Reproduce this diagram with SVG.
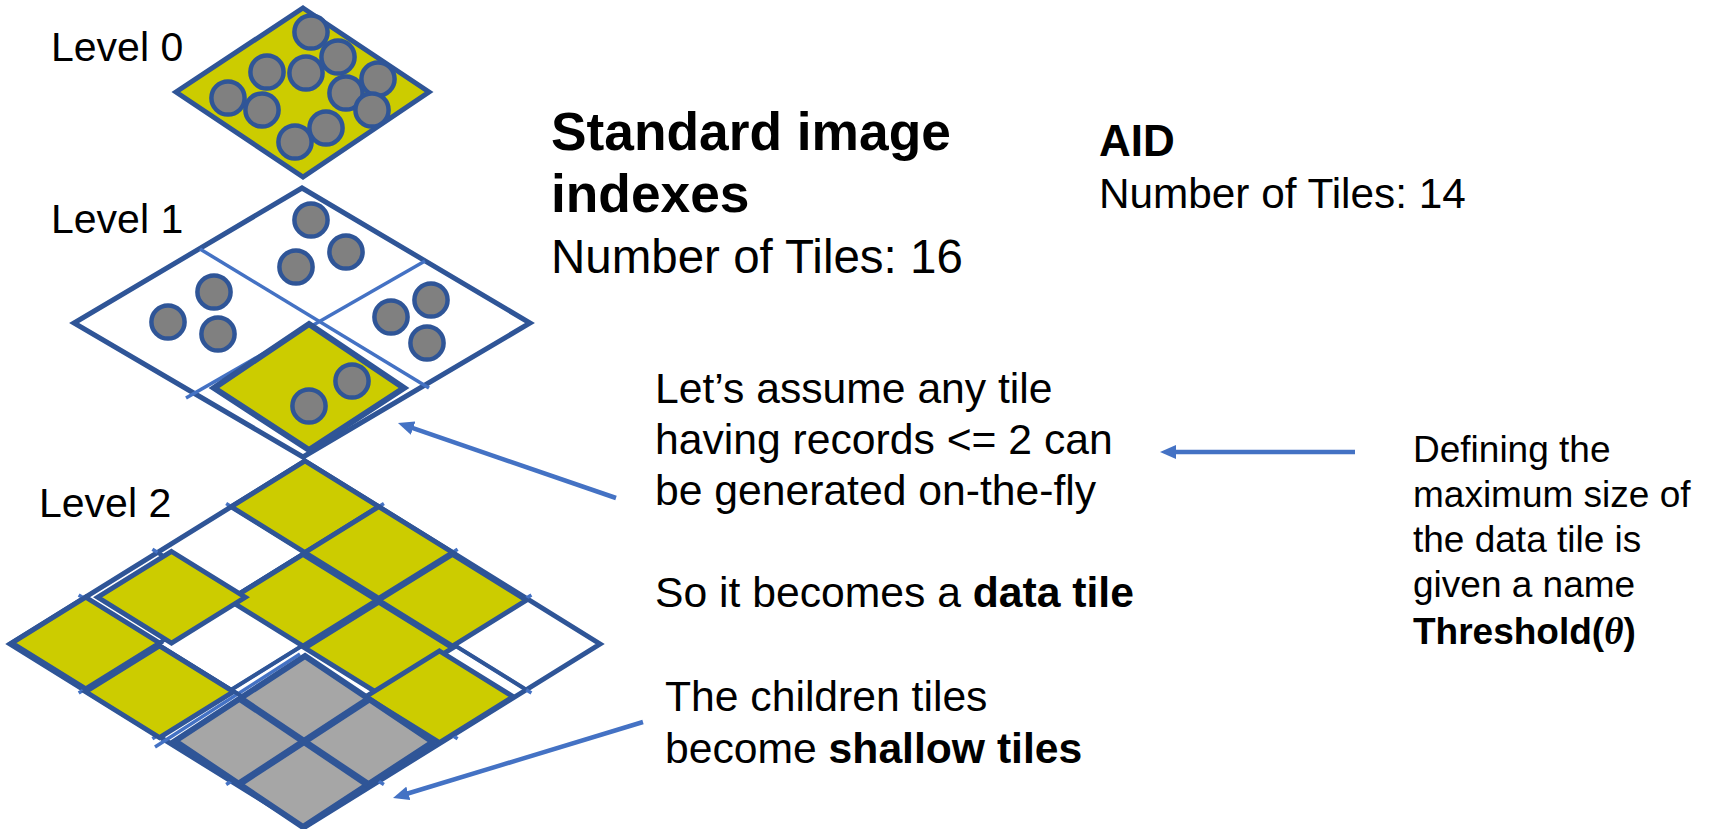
<svg xmlns="http://www.w3.org/2000/svg" width="1714" height="829" viewBox="0 0 1714 829">
<style>
.t{font-family:"Liberation Sans",Arial,sans-serif;fill:#000}
.b{font-weight:bold}
.dk{stroke:#2F5597;stroke-linejoin:miter}
.yel{fill:#CCCC00;stroke:#2F5597;stroke-width:5}
.wht{fill:#FFFFFF;stroke:#2F5597;stroke-width:5}
.gry{fill:#A6A6A6;stroke:#2F5597;stroke-width:6}
.rec{fill:#808080;stroke:#2F5597;stroke-width:4.5}
.lb{stroke:#4472C4;stroke-width:3.5;fill:none}
.dg{stroke:#2F5597;stroke-width:4;fill:none}
.arr{stroke:#4472C4;stroke-width:4.5;fill:none;marker-end:url(#ah)}
</style>
<defs>
<marker id="ah" viewBox="0 0 16 14" refX="4" refY="7" markerWidth="16" markerHeight="14" markerUnits="userSpaceOnUse" orient="auto">
<path d="M0,0 L16,7 L0,14 z" fill="#4472C4"/>
</marker>
</defs>
<rect width="1714" height="829" fill="#FFFFFF"/>

<g id="level0">
<polygon class="yel" points="303,8 429,92 303,177 176,92"/>
<circle class="rec" cx="311" cy="32" r="16.6"/>
<circle class="rec" cx="338" cy="57" r="16.6"/>
<circle class="rec" cx="267" cy="72" r="16.6"/>
<circle class="rec" cx="306" cy="73" r="16.6"/>
<circle class="rec" cx="346" cy="93" r="16.6"/>
<circle class="rec" cx="378" cy="79" r="16.6"/>
<circle class="rec" cx="372" cy="110" r="16.6"/>
<circle class="rec" cx="228" cy="98" r="16.6"/>
<circle class="rec" cx="262" cy="110" r="16.6"/>
<circle class="rec" cx="326" cy="128" r="16.6"/>
<circle class="rec" cx="295" cy="142" r="16.6"/>
<text class="t" x="51" y="61" font-size="41">Level 0</text>
</g>

<g id="level1">
<polygon class="wht" points="302,188 530,323 303,457 74,323"/>
<line class="lb" x1="200" y1="249" x2="429" y2="388"/>
<line class="lb" x1="186" y1="398" x2="425" y2="261"/>
<polygon class="yel" style="stroke-width:6" points="309,324 404,388 309,450 214,388"/>
<circle class="rec" cx="311" cy="220" r="16.6"/>
<circle class="rec" cx="346" cy="252" r="16.6"/>
<circle class="rec" cx="296" cy="267" r="16.6"/>
<circle class="rec" cx="214" cy="292" r="16.6"/>
<circle class="rec" cx="168" cy="322" r="16.6"/>
<circle class="rec" cx="218" cy="334" r="16.6"/>
<circle class="rec" cx="431" cy="300" r="16.6"/>
<circle class="rec" cx="391" cy="317" r="16.6"/>
<circle class="rec" cx="427" cy="343" r="16.6"/>
<circle class="rec" cx="352" cy="381" r="16.6"/>
<circle class="rec" cx="309" cy="406" r="16.6"/>
<text class="t" x="51" y="233" font-size="41">Level 1</text>
</g>

<g id="level2">
<polygon class="wht" points="305,461 600,644 305,827 10,644"/>
<g class="lb">
<line x1="226.2" y1="503.6" x2="531.4" y2="692.9"/>
<line x1="152.4" y1="549.3" x2="457.6" y2="738.7"/>
<line x1="78.7" y1="595.1" x2="383.9" y2="784.4"/>
<line x1="383.9" y1="503.6" x2="78.7" y2="692.9"/>
<line x1="457.6" y1="549.3" x2="152.4" y2="738.7"/>
<line x1="531.4" y1="595.1" x2="226.2" y2="784.4"/>
<line x1="155" y1="747" x2="300" y2="654"/>
</g>
<g class="dg">
<line x1="231.25" y1="506.75" x2="526.25" y2="689.75"/>
<line x1="157.5" y1="552.5" x2="452.5" y2="735.5"/>
<line x1="83.75" y1="598.25" x2="378.75" y2="781.25"/>
<line x1="378.75" y1="506.75" x2="83.75" y2="689.75"/>
<line x1="452.5" y1="552.5" x2="157.5" y2="735.5"/>
<line x1="526.25" y1="598.25" x2="231.25" y2="781.25"/>
</g>
<polygon class="yel" points="305,461 378.75,506.75 305,552.5 231.25,506.75"/>
<polygon class="yel" points="378.75,506.75 452.5,552.5 378.75,598.25 305,552.5"/>
<polygon class="yel" points="452.5,554.5 526.25,600.25 452.5,646 378.75,600.25"/>
<polygon class="yel" points="303,554.5 376.75,600.25 303,646 229.25,600.25"/>
<polygon class="yel" points="378.75,602.25 452.5,648 378.75,693.75 305,648"/>
<polygon class="yel" points="171.5,551.5 245.25,597.25 171.5,643 97.75,597.25"/>
<polygon class="yel" points="85.75,597.25 159.5,643 85.75,688.75 12,643"/>
<polygon class="yel" points="159.5,646 233.25,691.75 159.5,737.5 85.75,691.75"/>
<polygon class="yel" points="439.5,651 513.25,696.75 439.5,742.5 365.75,696.75"/>
<polygon class="gry" points="305,656 433,742 303,827 175,741"/>
<line class="dk" stroke-width="7" x1="369" y1="699" x2="239" y2="784"/>
<line class="dk" stroke-width="7" x1="240" y1="698.5" x2="368" y2="784.5"/>
<text class="t" x="39" y="517" font-size="41">Level 2</text>
</g>

<g id="standard">
<text class="t b" x="551" y="150" font-size="53.3">Standard image</text>
<text class="t b" x="551" y="212" font-size="53.3">indexes</text>
<text class="t" x="551" y="273" font-size="47.5">Number of Tiles: 16</text>
</g>

<g id="aid">
<text class="t b" x="1099" y="156" font-size="44">AID</text>
<text class="t" x="1099" y="208" font-size="42.3">Number of Tiles: 14</text>
</g>

<g id="assume">
<text class="t" x="655" y="403" font-size="42.67">Let’s assume any tile</text>
<text class="t" x="655" y="454" font-size="42.67">having records &lt;= 2 can</text>
<text class="t" x="655" y="505" font-size="42.67">be generated on-the-fly</text>
<text class="t" x="655" y="607" font-size="42.67">So it becomes a <tspan class="b">data tile</tspan></text>
</g>

<g id="children">
<text class="t" x="665" y="711" font-size="42.67">The children tiles</text>
<text class="t" x="665" y="763" font-size="42.67">become <tspan class="b">shallow tiles</tspan></text>
</g>

<g id="threshold">
<text class="t" x="1413" y="462" font-size="37">Defining the</text>
<text class="t" x="1413" y="507" font-size="37">maximum size of</text>
<text class="t" x="1413" y="552" font-size="37">the data tile is</text>
<text class="t" x="1413" y="597" font-size="37">given a name</text>
<text class="t b" x="1413" y="644" font-size="37">Threshold(<tspan font-family="'Liberation Serif',serif" font-style="italic">θ</tspan>)</text>
</g>

<g id="connectors">
<line class="arr" x1="616" y1="498" x2="409.3" y2="426.9"/>
<line class="arr" x1="1355" y1="452" x2="1172" y2="452"/>
<line class="arr" x1="643" y1="722" x2="404.5" y2="794.5"/>
</g>
</svg>
